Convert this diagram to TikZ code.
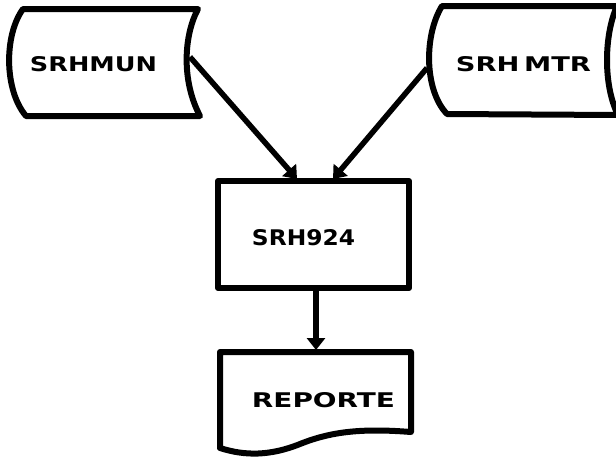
\documentclass[tikz,border=0pt]{standalone}
\usepackage{fontspec}
\setmainfont{DejaVu Sans}
\usetikzlibrary{arrows.meta}
\newcommand{\mylbl}[3]{\resizebox{#1pt}{#2pt}{\bfseries #3}}
\begin{document}
\begin{tikzpicture}[x=1pt,y=-1pt,
  shapeline/.style={line width=6pt, line join=round},
  conn/.style={line width=5.5pt, -{Triangle[length=12pt,width=18pt]}},
  lbl/.style={inner sep=0pt, anchor=center}]
\clip (0,0) rectangle (616,459);
\fill[white] (0,0) rectangle (616,459);
% SRHMUN stored data
\draw[shapeline] (23,9) -- (198,9)
  .. controls (184,35) and (181,80) .. (200,116) -- (26,116)
  .. controls (4,90) and (4,35) .. (23,9) -- cycle;
\node[lbl] (mun) at (93.5,64.5) {\mylbl{127}{15}{SRHMUN}};
% SRH MTR stored data
\draw[shapeline] (442,6) -- (617,6)
  .. controls (604,35) and (603,85) .. (618,115) -- (447,114)
  .. controls (424,90) and (424,35) .. (442,6) -- cycle;
\node[lbl] (mtr) at (523.5,64.5) {\mylbl{135}{15}{SRH\,MTR}};
% SRH924 process
\node[draw, shapeline, minimum width=191pt, minimum height=107pt, inner sep=0pt] (box) at (313.5,234.5) {};
\node[lbl] (boxt) at (303.5,238) {\mylbl{103}{16}{SRH924}};
% REPORTE document
\draw[shapeline] (220,352) -- (411,352) -- (411,432)
  .. controls (360,428) and (330,432) .. (300,444)
  .. controls (270,456) and (245,456) .. (220,448) -- cycle;
\node[lbl] (rep) at (323.5,400.5) {\mylbl{143}{15}{REPORTE}};
% connectors
\coordinate (munout) at (190,57);
\coordinate (mtrout) at (427,68);
\coordinate (in1) at (297,179);
\coordinate (in2) at (333,179);
\coordinate (boxout) at (316,288);
\coordinate (repin) at (316,350);
\draw[conn] (munout) -- (in1);
\draw[conn] (mtrout) -- (in2);
\draw[conn] (boxout) -- (repin);
\end{tikzpicture}
\end{document}
